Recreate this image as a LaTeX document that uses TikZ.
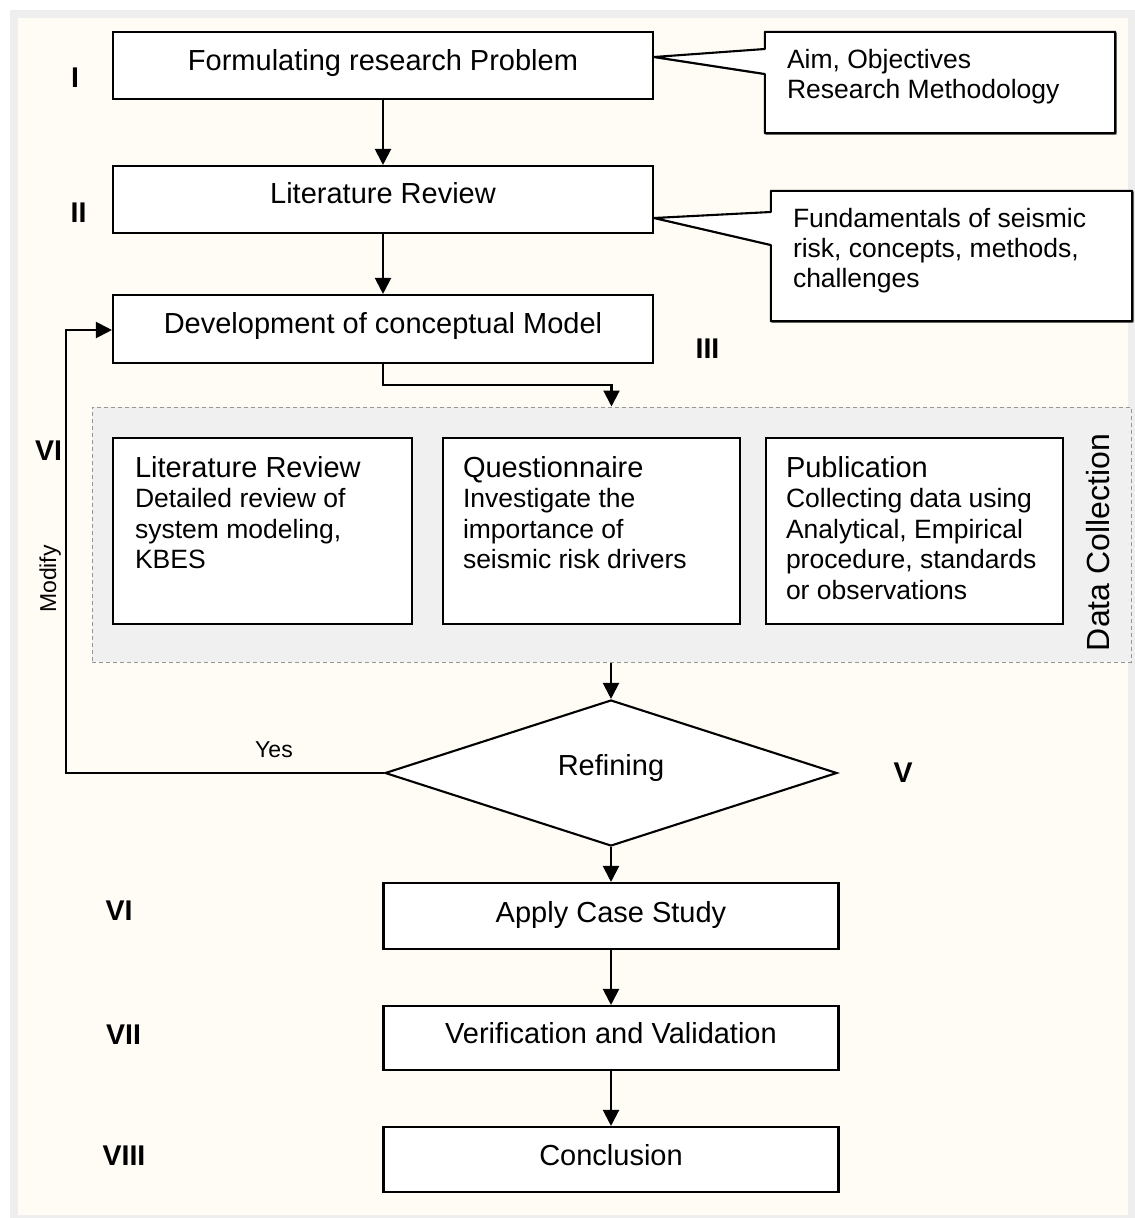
\documentclass[tikz,border=0pt]{standalone}
\usepackage{fontspec}
\setmainfont{Liberation Sans}
\usetikzlibrary{arrows.meta,shapes.geometric,shadows}
\pgfdeclarelayer{bg}
\pgfdeclarelayer{back}
\pgfsetlayers{bg,back,main}
\definecolor{pagecream}{RGB}{255,252,246}
\definecolor{framegrey}{RGB}{238,238,238}
\definecolor{zonegrey}{RGB}{240,240,240}
\definecolor{zoneline}{RGB}{150,150,150}
\newcommand{\fcBox}{\fontsize{29}{34}\selectfont}
\newcommand{\fcHead}{\fontsize{29}{30}\selectfont}
\newcommand{\fcSub}{\fontsize{26.5}{30.5}\selectfont}
\newcommand{\fcBody}{\fontsize{26.5}{30}\selectfont}
\newcommand{\fcNum}{\fontsize{28.5}{32}\selectfont\bfseries}
\newcommand{\fcSmall}{\fontsize{23}{26}\selectfont}
\newcommand{\fcZone}{\fontsize{32}{36}\selectfont}
\begin{document}
\begin{tikzpicture}[x=1pt,y=-1pt,
  boxshadow/.style={drop shadow={shadow xshift=1.3pt,shadow yshift=-1.3pt,fill=black!60,opacity=1}},
  stepbox/.style={draw=black,line width=2.1pt,fill=white,inner sep=0pt,boxshadow,font=\fcBox},
  subbox/.style={draw=black,line width=2.1pt,fill=white,inner sep=0pt,boxshadow},
  calloutbox/.style={inner sep=0pt},
  calloutline/.style={draw=black,line width=2.1pt,fill=white,line join=round,boxshadow},
  arr/.style={line width=2.1pt,-{Triangle[width=16pt,length=16pt]}},
  numlabel/.style={font=\fcNum,inner sep=0pt,anchor=base},
  smalllabel/.style={font=\fcSmall,inner sep=0pt,anchor=base}]

% page background and frame
\begin{pgfonlayer}{bg}
  \fill[white] (0,0) rectangle (1135,1218);
  \fill[framegrey] (10,10) rectangle (1135,1218);
  \fill[pagecream] (18,18) rectangle (1128,1215);
\end{pgfonlayer}
\useasboundingbox (0,0) rectangle (1135,1218);

% main steps
\node[stepbox,minimum width=540pt,text height=38pt,text depth=29pt] (prob) at (383,65.5) {Formulating research Problem};
\node[stepbox,minimum width=540pt,text height=37pt,text depth=30pt] (lit) at (383,199.5) {Literature Review};
\node[stepbox,minimum width=540pt,text height=38pt,text depth=30pt] (dev) at (383,329) {Development of conceptual Model};

% callouts
\node[calloutbox,minimum width=350pt,text height=36pt,text depth=65pt] (aim) at (940,82.5)
  {\parbox[t]{306pt}{\raggedright\fcBody Aim, Objectives\\Research Methodology}};
\node[calloutbox,minimum width=361pt,text height=36pt,text depth=94pt] (fund) at (951.5,256)
  {\parbox[t]{317pt}{\raggedright\fcBody Fundamentals of seismic\\risk, concepts, methods,\\challenges}};
\coordinate (aimtip) at (0,57);
\coordinate (aimhi) at (0,49);
\coordinate (aimlo) at (0,74);
\coordinate (fundtip) at (0,218);
\coordinate (fundhi) at (0,212);
\coordinate (fundlo) at (0,245);
\begin{pgfonlayer}{back}
  \draw[calloutline] (aim.north west) -- (aim.north east) -- (aim.south east) -- (aim.south west)
    -- (aim.west |- aimlo) -- (prob.east |- aimtip) -- (aim.west |- aimhi) -- cycle;
  \draw[calloutline] (fund.north west) -- (fund.north east) -- (fund.south east) -- (fund.south west)
    -- (fund.west |- fundlo) -- (lit.east |- fundtip) -- (fund.west |- fundhi) -- cycle;
\end{pgfonlayer}

% data collection zone
\node[draw=zoneline,fill=zonegrey,dash pattern=on 4pt off 3pt,line width=1pt,
      minimum width=1039pt,minimum height=255pt,inner sep=0pt] (dc) at (611.5,534.5) {};
\node[font=\fcZone,rotate=90,anchor=base,inner sep=0pt] (dctitle) at (1109,542.5) {Data Collection};

\node[subbox,minimum width=299pt,text height=39pt,text depth=147pt] (lrbox) at (262.5,531)
  {\parbox[t]{255pt}{\raggedright{\fcHead Literature Review\par}\fcSub Detailed review of\\system modeling,\\KBES}};
\node[subbox,minimum width=297pt,text height=39pt,text depth=147pt] (qbox) at (591.5,531)
  {\parbox[t]{257pt}{\raggedright{\fcHead Questionnaire\par}\fcSub Investigate the\\importance of\\seismic risk drivers}};
\node[subbox,minimum width=297pt,text height=39pt,text depth=147pt] (pubbox) at (914.5,531)
  {\parbox[t]{257pt}{\raggedright{\fcHead Publication\par}\fcSub Collecting data using\\Analytical, Empirical\\procedure, standards\\or observations}};

% decision
\node[diamond,draw=black,line width=2.1pt,fill=white,inner sep=0pt,minimum width=452pt,minimum height=146pt,
      text height=14pt,text depth=10pt,font=\fcBox] (ref) at (611,773) {Refining};

% later steps
\node[stepbox,minimum width=455pt,text height=39pt,text depth=27pt] (apply) at (611,916) {Apply Case Study};
\node[stepbox,minimum width=455pt,text height=37pt,text depth=27pt] (verif) at (611,1038) {Verification and Validation};
\node[stepbox,minimum width=455pt,text height=38pt,text depth=27pt] (concl) at (611,1159.5) {Conclusion};

% connectors
\coordinate (bend) at (0,385);
\coordinate (loop) at (66,330);
\draw[arr] (prob) -- (lit);
\draw[arr] (lit) -- (dev);
\draw[arr] (dev.south) -- (dev.south |- bend) -| (dc.north);
\draw[arr] (ref.north |- dc.south) -- (ref.north);
\draw[arr] (ref.south) -- (ref.south |- apply.north);
\draw[arr] (apply) -- (verif);
\draw[arr] (verif) -- (concl);
\draw[arr] (ref.west) -| (loop) -- (dev.west |- loop);

% labels
\node[smalllabel] (yes) at (274,757) {Yes};
\node[smalllabel,rotate=90] (modify) at (56,579) {Modify};
\node[numlabel] (n1) at (75,87) {I};
\node[numlabel] (n2) at (78.5,222) {II};
\node[numlabel] (n3) at (707.5,358) {III};
\node[numlabel] (n4) at (48.5,460) {VI};
\node[numlabel] (n5) at (903,782) {V};
\node[numlabel] (n6) at (119,920) {VI};
\node[numlabel] (n7) at (123.5,1044) {VII};
\node[numlabel] (n8) at (124,1165) {VIII};
\end{tikzpicture}
\end{document}
